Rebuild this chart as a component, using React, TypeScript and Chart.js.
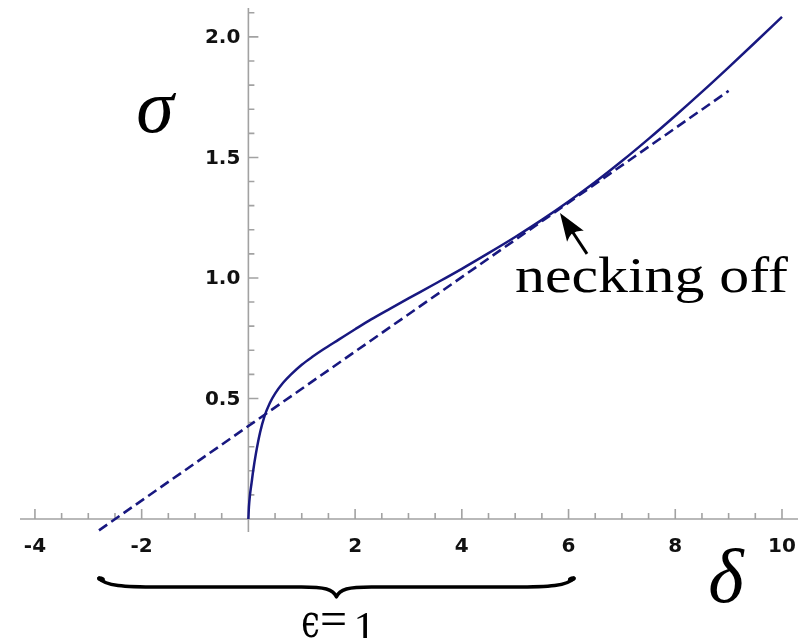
import React, { useEffect, useRef } from "react";
import { Chart, registerables } from "chart.js";

Chart.register(...registerables);

// Stress–extension curve σ(δ)
const solidX = [0, 0.01, 0.03, 0.06, 0.09, 0.14, 0.22, 0.3, 0.4, 0.5, 0.65, 0.8, 1.0, 1.2, 1.4, 1.7, 2.0, 2.3, 2.65, 3.0, 3.5, 4.0, 4.5, 5.0, 5.5, 6.0, 6.5, 7.0, 7.5, 8.0, 8.5, 9.0, 9.5, 10.0];
const solidY = [0, 0.05, 0.1, 0.15, 0.2, 0.27, 0.36, 0.425, 0.48, 0.52, 0.565, 0.6, 0.64, 0.673, 0.703, 0.745, 0.787, 0.828, 0.872, 0.915, 0.976, 1.038, 1.103, 1.17, 1.241, 1.317, 1.398, 1.485, 1.577, 1.673, 1.772, 1.874, 1.978, 2.083];

// Tangent (dashed) line endpoints
const dashedX = [-2.8, 9.0];
const dashedY = [-0.047, 1.776];

// Axis ticks
const xMajorTicks = [-4, -2, 2, 4, 6, 8, 10];
const xTickLabels = ["-4", "-2", "2", "4", "6", "8", "10"];
const xMinorTicks = [-3.5, -3, -2.5, -1.5, -1, -0.5, 0.5, 1, 1.5, 2.5, 3, 3.5, 4.5, 5, 5.5, 6.5, 7, 7.5, 8.5, 9, 9.5];
const yMajorTicks = [0.5, 1.0, 1.5, 2.0];
const yTickLabels = ["0.5", "1.0", "1.5", "2.0"];
const yMinorTicks = [0.1, 0.2, 0.3, 0.4, 0.6, 0.7, 0.8, 0.9, 1.1, 1.2, 1.3, 1.4, 1.6, 1.7, 1.8, 1.9, 2.1];

// Annotations
const neckingPoint = [5.84, 1.27];
const neckingLabel = "necking off";
const braceSpan = [-2.8, 6.1];
const braceLabelParts = ["ϵ", "=", "1"];
const yAxisTitle = "σ";
const xAxisTitle = "δ";

const LINE_COLOR = "rgb(24, 24, 128)";
const AXIS_COLOR = "#a2a2a2";

const axesPlugin = {
  id: "crossAxes",
  beforeDatasetsDraw(chart: any) {
    const { ctx, chartArea, scales } = chart;
    const xs = scales.x;
    const ys = scales.y;
    const x0 = xs.getPixelForValue(0);
    const y0 = ys.getPixelForValue(0);
    ctx.save();
    ctx.strokeStyle = AXIS_COLOR;
    ctx.lineWidth = 1.6;
    ctx.beginPath();
    ctx.moveTo(chartArea.left, y0);
    ctx.lineTo(chartArea.right, y0);
    ctx.moveTo(x0, chartArea.top);
    ctx.lineTo(x0, chartArea.bottom);
    for (const v of xMinorTicks) {
      const p = xs.getPixelForValue(v);
      ctx.moveTo(p, y0);
      ctx.lineTo(p, y0 - 6);
    }
    for (const v of xMajorTicks) {
      const p = xs.getPixelForValue(v);
      ctx.moveTo(p, y0);
      ctx.lineTo(p, y0 - 10);
    }
    for (const v of yMinorTicks) {
      const p = ys.getPixelForValue(v);
      ctx.moveTo(x0, p);
      ctx.lineTo(x0 + 6, p);
    }
    for (const v of yMajorTicks) {
      const p = ys.getPixelForValue(v);
      ctx.moveTo(x0, p);
      ctx.lineTo(x0 + 10, p);
    }
    ctx.stroke();

    ctx.fillStyle = "#111";
    ctx.font = "bold 20px 'DejaVu Sans'";
    ctx.textAlign = "center";
    ctx.textBaseline = "middle";
    xMajorTicks.forEach((v, i) => {
      ctx.fillText(xTickLabels[i], xs.getPixelForValue(v), y0 + 28);
    });
    ctx.textAlign = "right";
    yMajorTicks.forEach((v, i) => {
      ctx.fillText(yTickLabels[i], x0 - 8, ys.getPixelForValue(v) + 1);
    });
    ctx.restore();
  },
  afterDraw(chart: any) {
    const { ctx, scales } = chart;
    const xs = scales.x;
    const ys = scales.y;
    ctx.save();
    ctx.fillStyle = "#000";
    ctx.strokeStyle = "#000";

    // axis titles
    ctx.font = "italic 76px 'Liberation Serif'";
    ctx.textAlign = "center";
    ctx.textBaseline = "alphabetic";
    ctx.fillText(yAxisTitle, 155, 132);
    ctx.fillText(xAxisTitle, 726, 602);

    // necking-off label
    ctx.font = "51px 'Liberation Serif'";
    ctx.textAlign = "left";
    const w = ctx.measureText(neckingLabel).width;
    ctx.save();
    ctx.translate(515, 292);
    ctx.scale(273 / w, 1);
    ctx.fillText(neckingLabel, 0, 0);
    ctx.restore();

    // arrow pointing at the necking point
    const tx = xs.getPixelForValue(neckingPoint[0]);
    const ty = ys.getPixelForValue(neckingPoint[1]);
    const sx = tx + 27;
    const sy = ty + 41;
    const ang = Math.atan2(ty - sy, tx - sx);
    const headLen = 28;
    const headHalf = 10;
    const bx = tx - headLen * Math.cos(ang);
    const by = ty - headLen * Math.sin(ang);
    ctx.lineWidth = 3;
    ctx.beginPath();
    ctx.moveTo(sx, sy);
    ctx.lineTo(bx + 6 * Math.cos(ang), by + 6 * Math.sin(ang));
    ctx.stroke();
    const nx = -Math.sin(ang);
    const ny = Math.cos(ang);
    ctx.beginPath();
    ctx.moveTo(tx, ty);
    ctx.lineTo(bx + headHalf * nx, by + headHalf * ny);
    ctx.quadraticCurveTo(bx + 8 * Math.cos(ang), by + 8 * Math.sin(ang), bx - headHalf * nx, by - headHalf * ny);
    ctx.closePath();
    ctx.fill();

    // curly brace under the axis
    const xL = xs.getPixelForValue(braceSpan[0]);
    const xR = xs.getPixelForValue(braceSpan[1]);
    const xc = (xL + xR) / 2;
    const yEnd = 578;
    const yLine = 587;
    const yCusp = 597;
    ctx.lineWidth = 3.4;
    ctx.lineCap = "round";
    ctx.lineJoin = "round";
    ctx.beginPath();
    ctx.moveTo(xL, yEnd);
    ctx.bezierCurveTo(xL + 6, yLine - 1, xL + 25, yLine, xL + 60, yLine);
    ctx.lineTo(xc - 35, yLine);
    ctx.bezierCurveTo(xc - 12, yLine, xc - 3, yLine + 2, xc, yCusp);
    ctx.bezierCurveTo(xc + 3, yLine + 2, xc + 12, yLine, xc + 35, yLine);
    ctx.lineTo(xR - 60, yLine);
    ctx.bezierCurveTo(xR - 25, yLine, xR - 6, yLine - 1, xR, yEnd);
    ctx.stroke();
    ctx.beginPath();
    ctx.ellipse(xL + 2, yEnd + 1, 4, 2.6, 0.3, 0, Math.PI * 2);
    ctx.ellipse(xR - 2, yEnd + 1, 4, 2.6, -0.3, 0, Math.PI * 2);
    ctx.fill();

    // brace label "ϵ = 1"
    ctx.textAlign = "center";
    ctx.save();
    ctx.font = "46px 'DejaVu Serif'";
    ctx.translate(xc - 26, 637);
    ctx.scale(0.72, 1);
    ctx.fillText(braceLabelParts[0], 0, 0);
    ctx.restore();
    ctx.font = "48px 'Liberation Serif'";
    ctx.fillText(braceLabelParts[1], xc - 3, 635);
    ctx.font = "44px 'Liberation Serif'";
    ctx.fillText(braceLabelParts[2], xc + 28, 642);
    ctx.restore();
  },
};

export default function App() {
  const canvasRef = useRef<HTMLCanvasElement | null>(null);

  useEffect(() => {
    const canvas = canvasRef.current;
    if (!canvas) return;
    const chart = new Chart(canvas, {
      type: "scatter",
      data: {
        datasets: [
          {
            label: "σ(δ)",
            data: solidX.map((x, i) => ({ x, y: solidY[i] })),
            showLine: true,
            borderColor: LINE_COLOR,
            borderWidth: 2.5,
            pointRadius: 0,
            cubicInterpolationMode: "monotone",
          },
          {
            label: "tangent",
            data: dashedX.map((x, i) => ({ x, y: dashedY[i] })),
            showLine: true,
            borderColor: LINE_COLOR,
            borderWidth: 2.6,
            borderDash: [10, 5],
            pointRadius: 0,
          },
        ],
      },
      options: {
        responsive: false,
        animation: false,
        layout: { padding: { left: 20, right: 10, top: 8, bottom: 106 } },
        scales: {
          x: { type: "linear", min: -4.28, max: 10.3, display: false },
          y: { type: "linear", min: -0.054, max: 2.12, display: false },
        },
        plugins: { legend: { display: false }, tooltip: { enabled: false } },
      },
      plugins: [axesPlugin],
    });
    return () => chart.destroy();
  }, []);

  return (
    <div style={{ position: "fixed", left: 0, top: 0, width: 808, height: 638, background: "#fff" }}>
      <canvas ref={canvasRef} width={808} height={638} />
    </div>
  );
}
